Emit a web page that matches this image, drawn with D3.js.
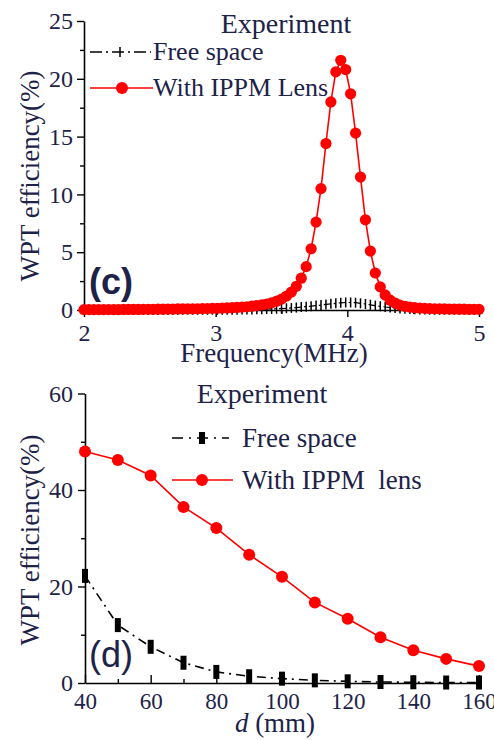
<!DOCTYPE html>
<html>
<head>
<meta charset="utf-8">
<script src="https://cdn.jsdelivr.net/npm/d3@7"></script>
<style>
  body { margin: 0; background: #fff; }
  svg { display: block; }
  svg text { font-family: "Liberation Serif", "Tinos", "Times New Roman", "DejaVu Serif", serif; }
  svg text.sans { font-family: "Liberation Sans", Arial, "DejaVu Sans", sans-serif; }
</style>
</head>
<body>
<script>

// ---- panel (c): efficiency vs frequency ----
var freqMHz = [2, 2.0375, 2.075, 2.1125, 2.15, 2.1875, 2.225, 2.2625, 2.3, 2.3375,
  2.375, 2.4125, 2.45, 2.4875, 2.525, 2.5625, 2.6, 2.6375, 2.675, 2.7125,
  2.75, 2.7875, 2.825, 2.8625, 2.9, 2.9375, 2.975, 3.0125, 3.05, 3.0875,
  3.125, 3.1625, 3.2, 3.2375, 3.275, 3.3125, 3.35, 3.3875, 3.425, 3.4625,
  3.5, 3.5375, 3.575, 3.6125, 3.65, 3.6875, 3.725, 3.7625, 3.8, 3.8375,
  3.875, 3.9125, 3.95, 3.9875, 4.025, 4.0625, 4.1, 4.1375, 4.175, 4.2125,
  4.25, 4.2875, 4.325, 4.3625, 4.4, 4.4375, 4.475, 4.5125, 4.55, 4.5875,
  4.625, 4.6625, 4.7, 4.7375, 4.775, 4.8125, 4.85, 4.8875, 4.925, 4.9625, 5];

var freeSpaceC = [0.01, 0.01, 0.01, 0.01, 0.01, 0.01, 0.01, 0.01, 0.01, 0.01,
  0.01, 0.01, 0.01, 0.01, 0.01, 0.01, 0.01, 0.01, 0.01, 0.01,
  0.02, 0.02, 0.02, 0.02, 0.02, 0.02, 0.02, 0.02, 0.02, 0.02,
  0.03, 0.03, 0.04, 0.04, 0.05, 0.06, 0.07, 0.08, 0.09, 0.11,
  0.13, 0.15, 0.18, 0.21, 0.25, 0.29, 0.33, 0.38, 0.43, 0.48,
  0.53, 0.58, 0.62, 0.65, 0.65, 0.63, 0.58, 0.52, 0.45, 0.38,
  0.32, 0.26, 0.21, 0.17, 0.13, 0.10, 0.08, 0.06, 0.05, 0.04,
  0.03, 0.02, 0.02, 0.02, 0.02, 0.02, 0.02, 0.02, 0.02, 0.02, 0.02];

var lensC = [0.03, 0.03, 0.03, 0.03, 0.04, 0.04, 0.04, 0.04, 0.05, 0.05,
  0.05, 0.05, 0.06, 0.06, 0.06, 0.07, 0.07, 0.08, 0.08, 0.09,
  0.09, 0.10, 0.10, 0.11, 0.12, 0.13, 0.14, 0.15, 0.16, 0.18,
  0.20, 0.22, 0.25, 0.28, 0.33, 0.38, 0.44, 0.52, 0.62, 0.76,
  0.94, 1.2, 1.55, 2.05, 2.75, 3.75, 5.3, 7.6, 10.5, 14.4,
  18.0, 20.6, 21.6, 20.8, 18.7, 15.3, 11.5, 7.8, 5.1, 3.2,
  2.0, 1.3, 0.85, 0.6, 0.42, 0.32, 0.25, 0.2, 0.16, 0.14,
  0.12, 0.11, 0.10, 0.09, 0.08, 0.08, 0.07, 0.07, 0.06, 0.06, 0.06];

var freqTicks = [2, 3, 4, 5];
var effTicksC = [0, 5, 10, 15, 20, 25];

// ---- panel (d): efficiency vs distance ----
var distMM = [40, 50, 60, 70, 80, 90, 100, 110, 120, 130, 140, 150, 160];
var freeSpaceD = [22.2, 12.0, 7.5, 4.2, 2.3, 1.4, 0.9, 0.55, 0.35, 0.2, 0.15, 0.1, 0.1];
var lensD = [48.0, 46.2, 43.0, 36.5, 32.1, 26.6, 22.0, 16.7, 13.3, 9.5, 6.8, 5.0, 3.5];

var distTicks = [40, 60, 80, 100, 120, 140, 160];
var effTicksD = [0, 20, 40, 60];

var textColor = "#1d2248";

var svg = d3.select("body").append("svg")
    .attr("width", 494)
    .attr("height", 740);

function styleAxis(g) {
  g.attr("font-family", null).attr("font-size", 24);
  g.selectAll("path.domain").attr("stroke", "#000").attr("stroke-width", 1.6);
  g.selectAll(".tick line").attr("stroke", "#000").attr("stroke-width", 1.4);
  g.selectAll(".tick text").attr("fill", textColor);
}

function minorAxis(g) {
  g.select("path.domain").remove();
  g.selectAll(".tick line").attr("stroke", "#000").attr("stroke-width", 1.4);
}

// ================= panel (c) =================
var xc = d3.scaleLinear().domain([2, 5]).range([84, 479]);
var yc = d3.scaleLinear().domain([0, 25]).range([310, 21]);

svg.append("g").attr("transform", "translate(0,310)")
  .call(d3.axisBottom(xc).tickValues([2.5, 3.5, 4.5]).tickSize(4).tickFormat(""))
  .call(minorAxis);
svg.append("g").attr("transform", "translate(84,0)")
  .call(d3.axisLeft(yc).tickValues(d3.range(2.5, 25, 5)).tickSize(4).tickFormat(""))
  .call(minorAxis);

svg.append("g").attr("transform", "translate(0,310)")
  .call(d3.axisBottom(xc).tickValues(freqTicks).tickSize(7).tickSizeOuter(0).tickPadding(7).tickFormat(d3.format("d")))
  .call(styleAxis);
svg.append("g").attr("transform", "translate(84,0)")
  .call(d3.axisLeft(yc).tickValues(effTicksC).tickSize(7).tickSizeOuter(0).tickPadding(4).tickFormat(d3.format("d")))
  .call(styleAxis);

var ptsC = freqMHz.map(function (f, i) { return { f: f, free: freeSpaceC[i], lens: lensC[i] }; });

svg.append("path").datum(ptsC)
  .attr("fill", "none").attr("stroke", "#000").attr("stroke-width", 1.2)
  .attr("stroke-dasharray", "7,3,2,3")
  .attr("d", d3.line().x(function (d) { return xc(d.f); }).y(function (d) { return yc(d.free); }));
svg.append("g").selectAll("line").data(ptsC).enter().append("line")
  .attr("x1", function (d) { return xc(d.f); })
  .attr("x2", function (d) { return xc(d.f); })
  .attr("y1", function (d) { return yc(d.free) - 5; })
  .attr("y2", function (d) { return yc(d.free) + 5; })
  .attr("stroke", "#000").attr("stroke-width", 1.5);

svg.append("path").datum(ptsC)
  .attr("fill", "none").attr("stroke", "#ff0000").attr("stroke-width", 1.6)
  .attr("d", d3.line().x(function (d) { return xc(d.f); }).y(function (d) { return yc(d.lens); }));
svg.append("g").selectAll("circle").data(ptsC).enter().append("circle")
  .attr("cx", function (d) { return xc(d.f); })
  .attr("cy", function (d) { return yc(d.lens); })
  .attr("r", 5.6)
  .attr("fill", "#ff0000");

// labels (c)
svg.append("text")
  .attr("x", 286).attr("y", 33).attr("text-anchor", "middle")
  .attr("font-size", 28).attr("fill", textColor).text("Experiment");
svg.append("text")
  .attr("x", 274).attr("y", 362).attr("text-anchor", "middle")
  .attr("font-size", 27).attr("fill", textColor).text("Frequency(MHz)");
svg.append("text")
  .attr("transform", "translate(39,176) rotate(-90)").attr("text-anchor", "middle")
  .attr("font-size", 27).attr("fill", textColor).text("WPT efficiency(%)");
svg.append("text").attr("class", "sans")
  .attr("x", 89).attr("y", 294).attr("font-weight", "bold")
  .attr("font-size", 36).attr("fill", textColor).text("(c)");

// legend (c)
svg.append("line").attr("x1", 90).attr("x2", 151).attr("y1", 52).attr("y2", 52)
  .attr("stroke", "#000").attr("stroke-width", 1.3).attr("stroke-dasharray", "12,4,2,4");
svg.append("line").attr("x1", 120).attr("x2", 120).attr("y1", 47).attr("y2", 57)
  .attr("stroke", "#000").attr("stroke-width", 1.5);
svg.append("text").attr("x", 153).attr("y", 60)
  .attr("font-size", 26).attr("fill", textColor).text("Free space");
svg.append("line").attr("x1", 90).attr("x2", 153).attr("y1", 88).attr("y2", 88)
  .attr("stroke", "#ff0000").attr("stroke-width", 1.6);
svg.append("circle").attr("cx", 122).attr("cy", 88).attr("r", 6).attr("fill", "#ff0000");
svg.append("text").attr("x", 153).attr("y", 96)
  .attr("font-size", 26).attr("fill", textColor).text("With IPPM Lens");

// ================= panel (d) =================
var xd = d3.scaleLinear().domain([40, 160]).range([85, 479]);
var yd = d3.scaleLinear().domain([0, 60]).range([683, 393.5]);

svg.append("g").attr("transform", "translate(0,683)")
  .call(d3.axisBottom(xd).tickValues(d3.range(50, 160, 20)).tickSize(-4).tickFormat(""))
  .call(minorAxis);
svg.append("g").attr("transform", "translate(85,0)")
  .call(d3.axisLeft(yd).tickValues([10, 30, 50]).tickSize(4).tickFormat(""))
  .call(minorAxis);

svg.append("g").attr("transform", "translate(0,683)")
  .call(d3.axisBottom(xd).tickValues(distTicks).tickSize(-8).tickSizeOuter(0).tickPadding(10).tickFormat(d3.format("d")))
  .call(styleAxis)
  .attr("font-size", 23);
svg.append("g").attr("transform", "translate(85,0)")
  .call(d3.axisLeft(yd).tickValues(effTicksD).tickSize(7).tickSizeOuter(0).tickPadding(5).tickFormat(d3.format("d")))
  .call(styleAxis);

var ptsD = distMM.map(function (d, i) { return { d: d, free: freeSpaceD[i], lens: lensD[i] }; });

svg.append("path").datum(ptsD)
  .attr("fill", "none").attr("stroke", "#000").attr("stroke-width", 1.6)
  .attr("stroke-dasharray", "9,5,2,5")
  .attr("d", d3.line().x(function (p) { return xd(p.d); }).y(function (p) { return yd(p.free); }));
svg.append("g").selectAll("rect").data(ptsD).enter().append("rect")
  .attr("x", function (p) { return xd(p.d) - 3; })
  .attr("y", function (p) { return yd(p.free) - 7; })
  .attr("width", 6).attr("height", 14)
  .attr("fill", "#000");

svg.append("path").datum(ptsD)
  .attr("fill", "none").attr("stroke", "#ff0000").attr("stroke-width", 1.6)
  .attr("d", d3.line().x(function (p) { return xd(p.d); }).y(function (p) { return yd(p.lens); }));
svg.append("g").selectAll("circle").data(ptsD).enter().append("circle")
  .attr("cx", function (p) { return xd(p.d); })
  .attr("cy", function (p) { return yd(p.lens); })
  .attr("r", 6)
  .attr("fill", "#ff0000");

// labels (d)
svg.append("text")
  .attr("x", 262).attr("y", 403).attr("text-anchor", "middle")
  .attr("font-size", 28).attr("fill", textColor).text("Experiment");
var xlab = svg.append("text")
  .attr("x", 275).attr("y", 732).attr("text-anchor", "middle")
  .attr("font-size", 27).attr("fill", textColor);
xlab.append("tspan").attr("font-style", "italic").text("d");
xlab.append("tspan").text(" (mm)");
svg.append("text")
  .attr("transform", "translate(39,540) rotate(-90)").attr("text-anchor", "middle")
  .attr("font-size", 27).attr("fill", textColor).text("WPT efficiency(%)");
svg.append("text").attr("class", "sans")
  .attr("x", 89).attr("y", 667)
  .attr("font-size", 36).attr("fill", textColor).text("(d)");

// legend (d)
svg.append("line").attr("x1", 172).attr("x2", 229).attr("y1", 438).attr("y2", 438)
  .attr("stroke", "#000").attr("stroke-width", 1.6).attr("stroke-dasharray", "11,6,2,6");
svg.append("rect").attr("x", 199).attr("y", 432).attr("width", 6).attr("height", 12).attr("fill", "#000");
svg.append("text").attr("x", 242).attr("y", 447)
  .attr("font-size", 27).attr("fill", textColor).text("Free space");
svg.append("line").attr("x1", 172).attr("x2", 233).attr("y1", 480).attr("y2", 480)
  .attr("stroke", "#ff0000").attr("stroke-width", 1.6);
svg.append("circle").attr("cx", 202).attr("cy", 480).attr("r", 6).attr("fill", "#ff0000");
svg.append("text").attr("x", 242).attr("y", 489)
  .attr("font-size", 27).attr("fill", textColor)
  .text("With IPPM\u00a0 lens");

</script>
</body>
</html>
